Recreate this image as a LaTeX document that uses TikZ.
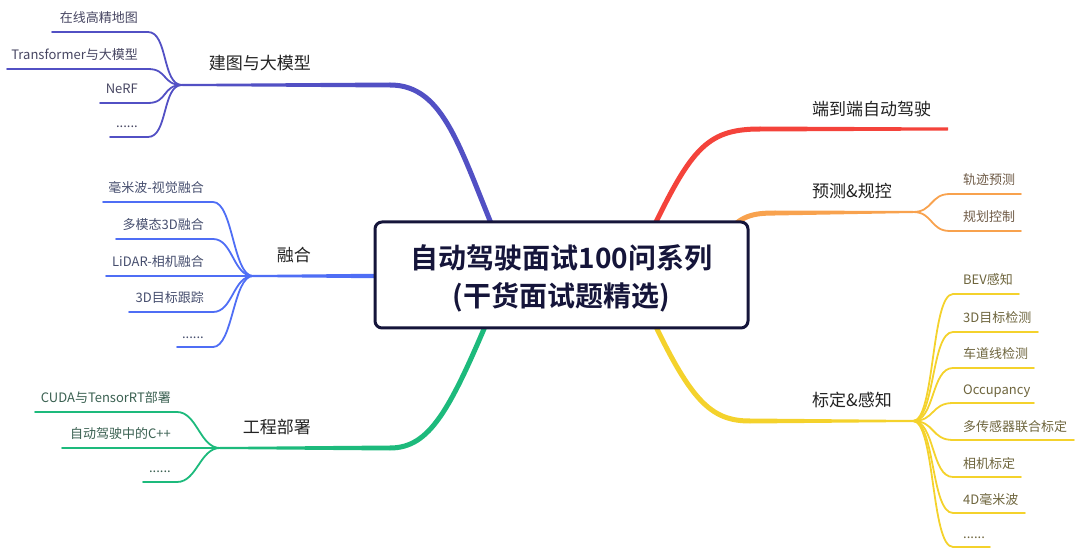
\documentclass[tikz,border=0pt]{standalone}
\usepackage{fontspec}
\setmainfont{Noto Sans CJK SC}[BoldFont={Noto Sans CJK SC Bold}]
\usetikzlibrary{calc,backgrounds}
\definecolor{mapC}{HTML}{5250C4}
\definecolor{fuseC}{HTML}{4F6EF5}
\definecolor{engC}{HTML}{1DBA7C}
\definecolor{endC}{HTML}{F4433B}
\definecolor{planC}{HTML}{F8A24E}
\definecolor{percC}{HTML}{F4D22C}
\definecolor{rootC}{HTML}{15153A}
\definecolor{labelC}{HTML}{222222}
\newcommand\leafdots{......}
\newcommand\rootline[1]{\raisebox{-3pt}[\height][\depth]{#1}}
\begin{document}
\begin{tikzpicture}[x=1pt, y=-1pt, line join=round,
	rootbox/.style={draw=rootC, line width=3pt, rounded corners=7pt, fill=white, minimum width=373pt, minimum height=106pt, align=center, text=rootC, font=\fontsize{28}{38}\selectfont\bfseries},
	branchtext/.style={text=labelC, inner sep=0pt, font=\fontsize{17}{20}\selectfont},
	leaftext/.style={text=#1!30!black!80, inner sep=0pt, font=\fontsize{13}{15}\selectfont},
	trunk/.style={draw=#1, line width=5pt},
	leafline/.style={draw=#1, line width=1.8pt, line cap=round}]
	\useasboundingbox (0,0) rectangle (1080,556);
	%%%%%%%%%%%%%%%%%%%%%%%%%%%%%%%%%
	\node[rootbox] (root) at (561.5,275) {\rootline{自动驾驶面试100问系列}\\\rootline{(干货面试题精选)}};
	%%%%%%%%%%%%%%%%%%%%%%%%%%%%%%%%%
	\node[branchtext, anchor=east] (mapL) at (311,63) {建图与大模型};
	\node[branchtext, anchor=east] (fuseL) at (311,255) {融合};
	\node[branchtext, anchor=east] (engL) at (311,427) {工程部署};
	\node[branchtext, anchor=west] (endL) at (812,109) {端到端自动驾驶};
	\node[branchtext, anchor=west] (planL) at (812,191) {预测\&规控};
	\node[branchtext, anchor=west] (percL) at (812,400) {标定\&感知};
	%%%%%%%%%%%%%%%%%%%%%%%%%%%%%%%%%
	\begin{scope}[on background layer]
		% 建图与大模型
		\coordinate (mapS) at (500,245);
		\coordinate (mapA) at (390,85);
		\coordinate (mapH) at (182,85);
		\draw[trunk=mapC] (mapS) .. controls (460,150) and (445,85) .. (mapA);
		\fill[mapC] ($(mapA)+(0,-2.5)$) -- ($(mapH)+(0,-1)$) -- ($(mapH)+(0,1)$) -- ($(mapA)+(0,2.5)$) -- cycle;
		\foreach \y/\xl/\txt [count=\i] in {32/52/在线高精地图, 69/7/Transformer与大模型, 103/100/NeRF, 137/110/\leafdots} {
			\coordinate (map\i) at (148,\y);
			\coordinate (mapE\i) at (\xl,\y);
			\draw[leafline=mapC] (mapH) .. controls ($(mapH)+(-20,0)$) and ($(map\i)+(20,0)$) .. (map\i) -- (mapE\i);
			\node[leaftext=mapC, anchor=base east] (mapT\i) at (138,\y-9) {\txt};
		}
		% 融合
		\coordinate (fuseS) at (400,276);
		\coordinate (fuseH) at (253,276);
		\fill[fuseC] ($(fuseS)+(0,-2.5)$) -- ($(fuseH)+(0,-1)$) -- ($(fuseH)+(0,1)$) -- ($(fuseS)+(0,2.5)$) -- cycle;
		\foreach \y/\xl/\txt [count=\i] in {202/103/毫米波-视觉融合, 239/116/多模态3D融合, 276/106/LiDAR-相机融合, 312/129/3D目标跟踪, 347/177/\leafdots} {
			\coordinate (fuse\i) at (213,\y);
			\coordinate (fuseE\i) at (\xl,\y);
			\draw[leafline=fuseC] (fuseH) .. controls ($(fuseH)+(-20,0)$) and ($(fuse\i)+(20,0)$) .. (fuse\i) -- (fuseE\i);
			\node[leaftext=fuseC, anchor=base east] (fuseT\i) at (204,\y-9) {\txt};
		}
		% 工程部署
		\coordinate (engS) at (492,310);
		\coordinate (engA) at (390,448);
		\coordinate (engH) at (220,448);
		\draw[trunk=engC] (engS) .. controls (450,410) and (430,448) .. (engA);
		\fill[engC] ($(engA)+(0,-2.5)$) -- ($(engH)+(0,-1)$) -- ($(engH)+(0,1)$) -- ($(engA)+(0,2.5)$) -- cycle;
		\foreach \y/\xl/\txt [count=\i] in {412/35/CUDA与TensorRT部署, 448/62/自动驾驶中的C++, 482/143/\leafdots} {
			\coordinate (eng\i) at (177,\y);
			\coordinate (engE\i) at (\xl,\y);
			\draw[leafline=engC] (engH) .. controls ($(engH)+(-20,0)$) and ($(eng\i)+(20,0)$) .. (eng\i) -- (engE\i);
			\node[leaftext=engC, anchor=base east] (engT\i) at (171,\y-10) {\txt};
		}
		% 端到端自动驾驶
		\coordinate (endS) at (645,245);
		\coordinate (endA) at (760,129);
		\coordinate (endE) at (948,129);
		\draw[trunk=endC] (endS) .. controls (690,150) and (705,129) .. (endA);
		\fill[endC] ($(endA)+(0,-2.5)$) -- ($(endE)+(0,-1.5)$) -- ($(endE)+(0,1.5)$) -- ($(endA)+(0,2.5)$) -- cycle;
		% 预测&规控
		\coordinate (planS) at (725,235);
		\coordinate (planA) at (775,213);
		\coordinate (planH) at (913,212);
		\draw[trunk=planC] (planS) .. controls (740,216) and (752,213) .. (planA);
		\fill[planC] ($(planA)+(0,-2.5)$) -- ($(planH)+(0,-1)$) -- ($(planH)+(0,1)$) -- ($(planA)+(0,2.5)$) -- cycle;
		\foreach \y/\xr/\txt [count=\i] in {194/1021/轨迹预测, 231/1021/规划控制} {
			\coordinate (plan\i) at (950,\y);
			\coordinate (planE\i) at (\xr,\y);
			\draw[leafline=planC] (planH) .. controls ($(planH)+(20,0)$) and ($(plan\i)+(-20,0)$) .. (plan\i) -- (planE\i);
			\node[leaftext=planC, anchor=base west] (planT\i) at (963,\y-9) {\txt};
		}
		% 标定&感知
		\coordinate (percS) at (648,310);
		\coordinate (percA) at (750,421);
		\coordinate (percH) at (913,421);
		\draw[trunk=percC] (percS) .. controls (690,400) and (710,421) .. (percA);
		\fill[percC] ($(percA)+(0,-2.5)$) -- ($(percH)+(0,-1)$) -- ($(percH)+(0,1)$) -- ($(percA)+(0,2.5)$) -- cycle;
		\foreach \y/\xr/\txt [count=\i] in {294/1019/BEV感知, 332/1038/3D目标检测, 368/1034/车道线检测, 403/1034/Occupancy, 440/1074/多传感器联合标定, 477/1021/相机标定, 513/1025/4D毫米波, 547/990/\leafdots} {
			\coordinate (perc\i) at (953,\y);
			\coordinate (percE\i) at (\xr,\y);
			\draw[leafline=percC] (percH) .. controls ($(percH)+(22,0)$) and ($(perc\i)+(-22,0)$) .. (perc\i) -- (percE\i);
			\node[leaftext=percC, anchor=base west] (percT\i) at (963,\y-9) {\txt};
		}
	\end{scope}
	%%%%%%%%%%%%%%%%%%%%%%%%%%%%%%%%%
\end{tikzpicture}
\end{document}
